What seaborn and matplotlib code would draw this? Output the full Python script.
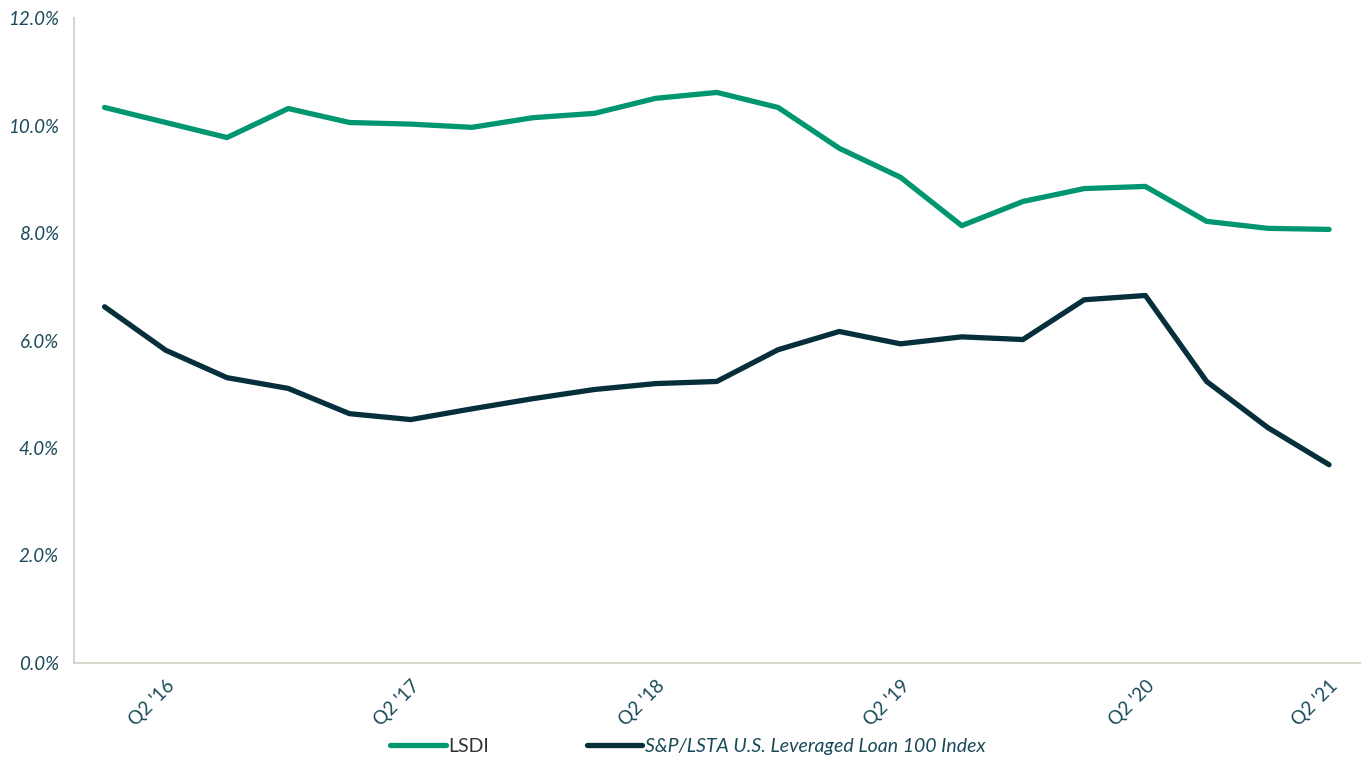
import pandas as pd
import matplotlib.pyplot as plt
import seaborn as sns
from matplotlib.ticker import FuncFormatter

# Quarterly spreads (%), 21 quarters
lsdi = [10.34, 10.06, 9.78, 10.32, 10.06, 10.03, 9.97, 10.15, 10.23, 10.51, 10.62,
        10.34, 9.58, 9.04, 8.14, 8.59, 8.83, 8.87, 8.22, 8.09, 8.07]
lev_loan = [6.63, 5.82, 5.31, 5.11, 4.64, 4.53, 4.73, 4.92, 5.09, 5.20, 5.24,
            5.83, 6.17, 5.94, 6.07, 6.02, 6.76, 6.84, 5.24, 4.38, 3.69]
tick_pos = [1, 5, 9, 13, 17, 20]
tick_labels = ["Q2 '16", "Q2 '17", "Q2 '18", "Q2 '19", "Q2 '20", "Q2 '21"]
series_names = ['LSDI', 'S&P/LSTA U.S. Leveraged Loan 100 Index']

n = len(lsdi)
df = pd.DataFrame({
    'quarter': list(range(n)) * 2,
    'spread': lsdi + lev_loan,
    'series': [series_names[0]] * n + [series_names[1]] * n,
})

sns.set_style('white')
plt.rcParams['font.family'] = ['Lato', 'DejaVu Sans']

text_col = '#1b4b5a'
spine_col = '#d9d4ce'
palette = {series_names[0]: '#009670', series_names[1]: '#062f3c'}

fig = plt.figure(figsize=(13.62, 7.62), dpi=100)
ax = fig.add_axes([0.0543, 0.13, 0.944, 0.846])

sns.lineplot(data=df, x='quarter', y='spread', hue='series', palette=palette,
             linewidth=3.8, solid_capstyle='round', ax=ax, legend=False)

ax.set_xlim(-0.5, n - 0.5)
ax.set_ylim(0, 12)
ax.set_yticks([0, 2, 4, 6, 8, 10, 12])
ax.yaxis.set_major_formatter(FuncFormatter(lambda v, p: f'{v:.1f}%'))
ax.set_xticks(tick_pos)
ax.set_xticklabels(tick_labels, rotation=45, ha='right', va='top',
                   rotation_mode='anchor')
ax.tick_params(axis='x', length=0, pad=10, labelsize=13.5, labelcolor=text_col)
ax.tick_params(axis='y', length=0, pad=11, labelsize=13.5, labelcolor=text_col)
for lab in ax.get_yticklabels():
    lab.set_fontstyle('italic')
ax.set_xlabel('')
ax.set_ylabel('')

for side in ['top', 'right']:
    ax.spines[side].set_visible(False)
for side in ['left', 'bottom']:
    ax.spines[side].set_color(spine_col)
    ax.spines[side].set_linewidth(1.5)

# legend at bottom
handles = [plt.Line2D([], [], color=palette[s], lw=3.8, solid_capstyle='round')
           for s in series_names]
leg = fig.legend(handles, series_names, loc='lower center', ncol=2,
                 bbox_to_anchor=(0.505, -0.014), frameon=False, fontsize=14,
                 handlelength=2.85, handletextpad=0.15, columnspacing=5.0)
texts = leg.get_texts()
texts[0].set_color('#333333')
texts[1].set_color(text_col)
texts[1].set_fontstyle('italic')

fig.savefig('out.png', dpi=100)
